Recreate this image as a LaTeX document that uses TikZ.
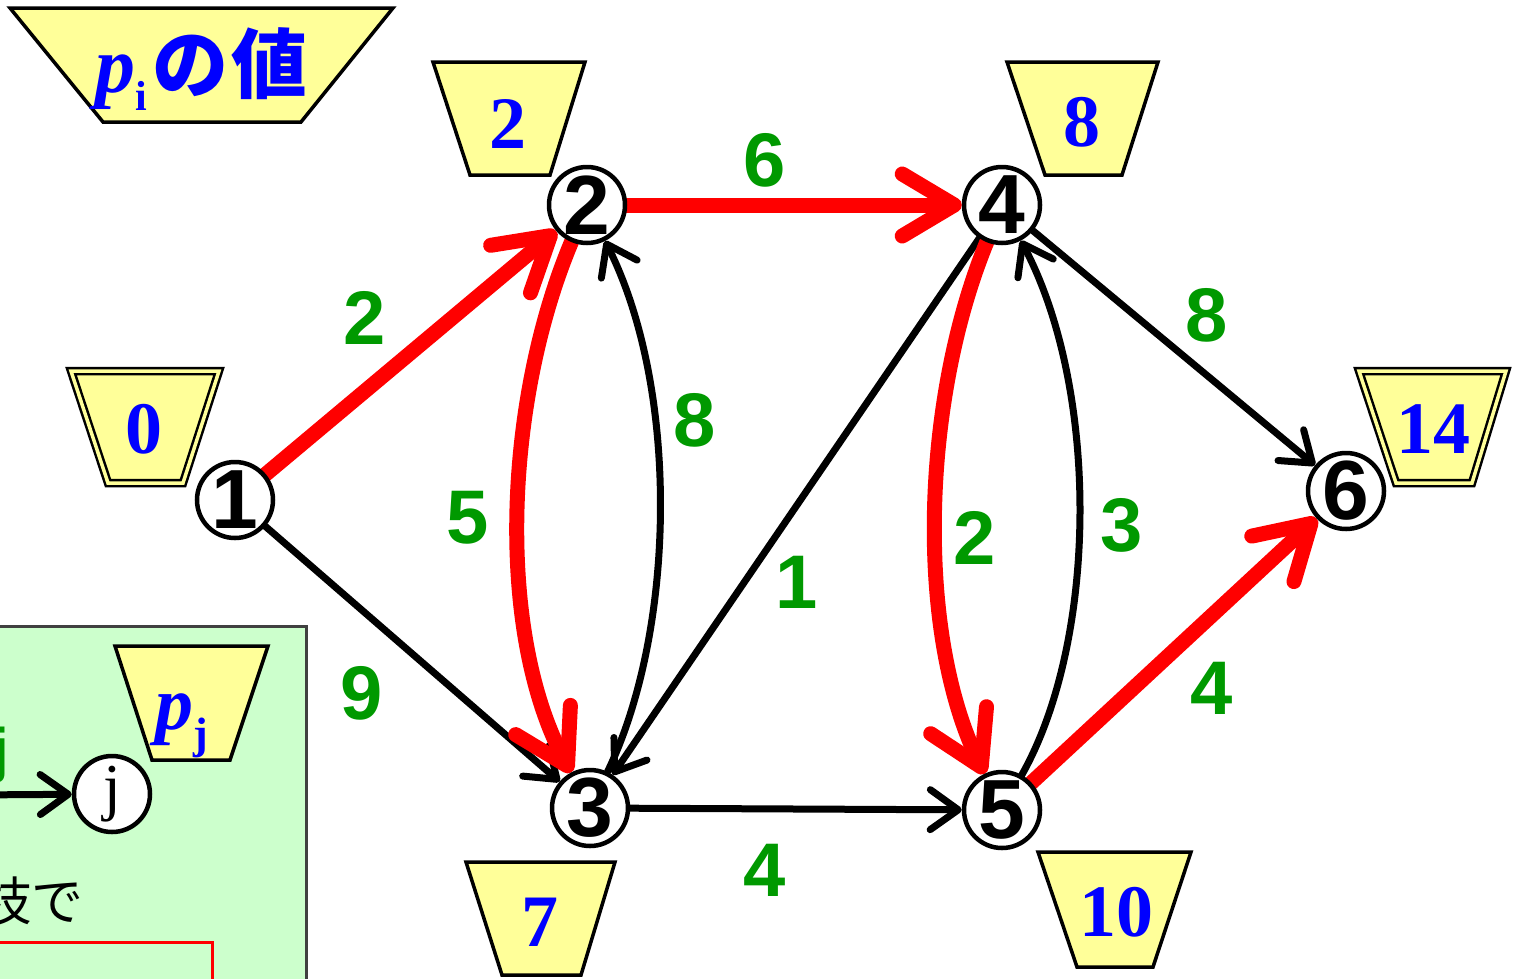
\documentclass[tikz,border=0pt]{standalone}
\usepackage{fontspec}
\usetikzlibrary{arrows.meta}
\newfontfamily\gsans{Liberation Sans}
\newfontfamily\tserif{Liberation Serif}
\newfontfamily\jp{Noto Sans CJK JP}
\definecolor{tyel}{RGB}{255,255,153}
\definecolor{lgrn}{RGB}{204,255,204}
\definecolor{wgrn}{RGB}{0,153,0}
\definecolor{bblue}{RGB}{0,0,255}
\pgfdeclarelayer{bgl}
\pgfsetlayers{bgl,main}
\tikzset{
  circ/.style={circle, draw, line width=4.5pt, fill=white, minimum size=76pt, inner sep=0pt,
    font=\gsans\bfseries\fontsize{84}{84}\selectfont},
  wlab/.style={text=wgrn, inner sep=0pt, font=\gsans\bfseries\fontsize{76}{76}\selectfont},
  plab/.style={text=bblue, inner sep=0pt, font=\tserif\bfseries\fontsize{74}{74}\selectfont},
  trap/.style={fill=tyel, draw=black, line width=3.5pt, line join=miter},
  dtrap/.style={fill=tyel, draw=black, line width=2.5pt, double=tyel, double distance=3.5pt, line join=miter},
  redarr/.style={draw=red, line width=15pt, line cap=round,
    -{Straight Barb[length=52pt, width=62pt, round]}},
  blkarr/.style={draw=black, line width=7pt, line cap=round,
    -{Straight Barb[length=28pt, width=40pt, round]}},
}
\begin{document}
\begin{tikzpicture}[x=1pt,y=-1pt]
\useasboundingbox (0,0) rectangle (1518,978);
\clip (0,0) rectangle (1518,978);

% legend box
\begin{pgfonlayer}{bgl}
\draw[fill=lgrn, draw=black!75, line width=3pt] (-20,626) rectangle (306,1000);
\draw[red, line width=3pt] (-20,942) rectangle (212,1000);
\end{pgfonlayer}
\draw[trap] (115,646) -- (268,646) -- (230,760) -- (152,760) -- cycle;
\node[text=bblue, inner sep=0pt, anchor=base west] (pj) at (155,729)
  {\tserif\bfseries\itshape\fontsize{76}{76}\selectfont p\raisebox{-19pt}{\upshape\fontsize{44}{44}\selectfont j}};
\node[circ, font=\tserif\fontsize{64}{64}\selectfont] (nj) at (112,794) {j};
\node[text=wgrn, inner sep=0pt, anchor=base east, font=\gsans\bfseries\fontsize{60}{60}\selectfont] (lj) at (9,770) {j};
\node[inner sep=0pt, anchor=base east, font=\jp\fontsize{52}{52}\selectfont] (ltext) at (84,920) {枝で};
\coordinate (lsrc) at (-30,795);
\begin{pgfonlayer}{bgl}
\draw[blkarr] (lsrc) -- (nj);
\end{pgfonlayer}

% title trapezoid
\draw[trap] (10,8) -- (393,8) -- (301,122) -- (103,122) -- cycle;
\node[text=bblue, inner sep=0pt, anchor=base west] (title) at (95,92)
  {{\tserif\bfseries\itshape\fontsize{80}{80}\selectfont p}{\raisebox{-18pt}{\tserif\bfseries\fontsize{42}{42}\selectfont i}}\hspace{6pt}{\jp\bfseries\fontsize{76}{76}\selectfont の\hspace{3pt}値}};

% value trapezoids
\draw[trap] (433,62) -- (585,62) -- (550,175) -- (470,175) -- cycle;
\draw[trap] (1007,62) -- (1158,62) -- (1122,175) -- (1045,175) -- cycle;
\draw[trap] (466,862) -- (615,862) -- (581,975) -- (502,975) -- cycle;
\draw[trap] (1038,852) -- (1191,852) -- (1153,967) -- (1077,967) -- cycle;
\draw[dtrap] (71,371) -- (219,371) -- (183,483) -- (108,483) -- cycle;
\draw[dtrap] (1359,371) -- (1506,371) -- (1472,483) -- (1396,483) -- cycle;

\node[plab] (p1) at (144,429) {0};
\node[plab] (p2) at (508,124) {2};
\node[plab] (p3) at (540,922) {7};
\node[plab] (p4) at (1082,122) {8};
\node[plab] (p5) at (1116,912) {10};
\node[plab] (p6) at (1433,429) {14};

% graph nodes
\node[circ] (n1) at (235,500) {1};
\node[circ] (n2) at (587,205) {2};
\node[circ] (n3) at (590,808) {3};
\node[circ] (n4) at (1002,205) {4};
\node[circ] (n5) at (1002,810) {5};
\node[circ] (n6) at (1346,491) {6};

% edges
\begin{pgfonlayer}{bgl}
\draw[blkarr] (n1) -- (n3);
\draw[blkarr] (n4) -- (n3);
\draw[blkarr] (n3) -- (n5);
\draw[blkarr] (n4) -- (n6);
\draw[blkarr] (n3) .. controls (676,630) and (680,390) .. (n2);
\draw[blkarr] (n5) .. controls (1098,640) and (1100,390) .. (n4);
\draw[redarr] (n1) -- (n2);
\draw[redarr] (n2) -- (n4);
\draw[redarr] (n5) -- (n6);
\draw[redarr] (n2) .. controls (505,400) and (495,630) .. (n3);
\draw[redarr] (n4) .. controls (922,400) and (915,630) .. (n5);
\end{pgfonlayer}

% edge weights
\node[wlab] (w24) at (765,160) {6};
\node[wlab] (w12) at (365,318) {2};
\node[wlab] (w23) at (468,518) {5};
\node[wlab] (w32) at (695,420) {8};
\node[wlab] (w43) at (797,582) {1};
\node[wlab] (w13) at (362,693) {9};
\node[wlab] (w35) at (765,870) {4};
\node[wlab] (w46) at (1207,315) {8};
\node[wlab] (w45) at (975,538) {2};
\node[wlab] (w54) at (1122,525) {3};
\node[wlab] (w56) at (1212,688) {4};
\end{tikzpicture}
\end{document}
